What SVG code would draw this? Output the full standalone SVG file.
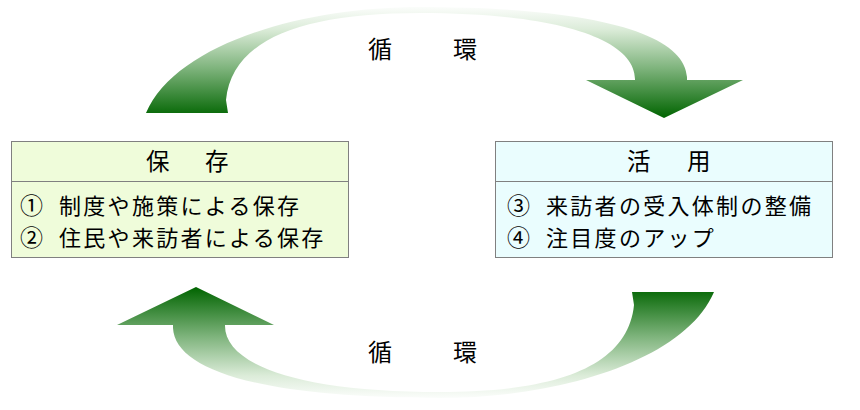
<svg xmlns="http://www.w3.org/2000/svg" xmlns:xlink="http://www.w3.org/1999/xlink" width="860" height="410" viewBox="0 0 860 410">
<style>
.t{font-family:"Noto Sans CJK JP","Noto Sans CJK SC",sans-serif;fill:#000}
.h{font-size:23.5px}
.i{font-size:22px;letter-spacing:2.3px}
.n{font-size:23px}
.c{font-size:24px}
.box{stroke:#808080;stroke-width:1}
</style>
<defs>
<linearGradient id="g" x1="0" y1="0" x2="0" y2="1">
<stop offset="0" stop-color="#fbfdfb"/>
<stop offset="0.2" stop-color="#dcecd9"/>
<stop offset="0.55" stop-color="#7fb47d"/>
<stop offset="1" stop-color="#006400"/>
</linearGradient>
<path id="arc" d="M146,113 C175,45 300,7 420,7 C600,7 685,35 687,77 L687,80 L743,80 L664,118 L586,80 L635,80 C636,40 560,13 420,13 C300,13 232,40 226,100 L228,113 Z" fill="url(#g)"/>
</defs>
<g id="connectors">
<use id="cycle-top" xlink:href="#arc"/>
<use id="cycle-bottom" xlink:href="#arc" transform="rotate(180 430 202.5)"/>
<text class="t c" x="368" y="58">循</text>
<text class="t c" x="453" y="58">環</text>
<text class="t c" x="368" y="361">循</text>
<text class="t c" x="453" y="361">環</text>
</g>
<g id="hozon">
<rect class="box" x="11.5" y="141.5" width="337" height="116" fill="#effcda"/>
<line class="box" x1="11.5" y1="181.5" x2="348.5" y2="181.5"/>
<text class="t h" y="170"><tspan x="146">保</tspan><tspan x="205">存</tspan></text>
<text class="t n" x="20" y="214">①</text>
<text class="t i" x="59" y="214">制度や施策による保存</text>
<text class="t n" x="20" y="246">②</text>
<text class="t i" x="59" y="246">住民や来訪者による保存</text>
</g>
<g id="katsuyou">
<rect class="box" x="495.5" y="141.5" width="337" height="116" fill="#eafdfe"/>
<line class="box" x1="495.5" y1="181.5" x2="832.5" y2="181.5"/>
<text class="t h" y="170"><tspan x="627">活</tspan><tspan x="687">用</tspan></text>
<text class="t n" x="507" y="214">③</text>
<text class="t i" x="546" y="214">来訪者の受入体制の整備</text>
<text class="t n" x="507" y="246">④</text>
<text class="t i" x="546" y="246">注目度のアップ</text>
</g>
</svg>
